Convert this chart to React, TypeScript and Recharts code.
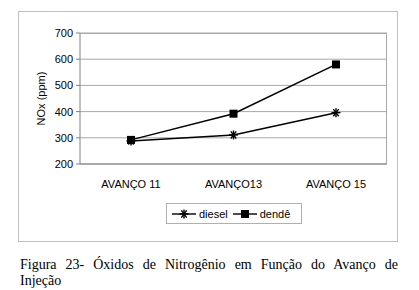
import React from 'react';
import { LineChart, Line, XAxis, YAxis, CartesianGrid, Legend } from 'recharts';

const categories = ['AVANÇO 11', 'AVANÇO13', 'AVANÇO 15'];
const diesel = [288, 311, 396];
const dende = [292, 392, 580];
const yTicks = [200, 300, 400, 500, 600, 700];
const bandEdges = [0, 1, 2, 3];

const data = categories.map((name, i) => ({ name, diesel: diesel[i], dende: dende[i] }));

const FONT = 'Liberation Sans, Arial, sans-serif';

const StarDot = (props: any) => {
  const { cx, cy } = props;
  if (cx == null || cy == null) return null;
  const r = 4.5;
  return (
    <g stroke="#000" strokeWidth={1.4}>
      <line x1={cx - r} y1={cy} x2={cx + r} y2={cy} />
      <line x1={cx - r * 0.6} y1={cy - r * 0.8} x2={cx + r * 0.6} y2={cy + r * 0.8} />
      <line x1={cx - r * 0.6} y1={cy + r * 0.8} x2={cx + r * 0.6} y2={cy - r * 0.8} />
      <line x1={cx} y1={cy - r} x2={cx} y2={cy + r} />
    </g>
  );
};

const SquareDot = (props: any) => {
  const { cx, cy } = props;
  if (cx == null || cy == null) return null;
  return <rect x={cx - 4} y={cy - 4} width={8} height={8} fill="#000" />;
};

const LegendBox = () => (
  <div style={{ paddingTop: 15 }}>
    <div
      style={{
        marginLeft: 147,
        width: 134,
        height: 19,
        border: '1px solid #b0b0b0',
        display: 'flex',
        alignItems: 'center',
        fontFamily: FONT,
        fontSize: 11,
        color: '#000',
        boxSizing: 'content-box',
      }}
    >
      <svg width={26} height={12} style={{ marginLeft: 4 }}>
        <line x1={1} y1={6} x2={25} y2={6} stroke="#000" strokeWidth={1.4} />
        <StarDot cx={13} cy={6} />
      </svg>
      <span style={{ marginLeft: 2 }}>diesel</span>
      <svg width={26} height={12} style={{ marginLeft: 4 }}>
        <line x1={1} y1={6} x2={25} y2={6} stroke="#000" strokeWidth={1.4} />
        <SquareDot cx={13} cy={6} />
      </svg>
      <span style={{ marginLeft: 2 }}>dendê</span>
    </div>
  </div>
);

const serif = 'Liberation Serif, Times New Roman, serif';

export default function App() {
  return (
    <div style={{ position: 'absolute', left: 0, top: 0, width: 419, height: 290, background: '#fff' }}>
      <div
        style={{
          position: 'absolute',
          left: 18,
          top: 11,
          width: 378,
          height: 229,
          border: '1px solid #c0c0c0',
        }}
      >
        <LineChart
          width={378}
          height={229}
          data={data}
          margin={{ top: 21, right: 10, left: 0, bottom: 0 }}
        >
          <CartesianGrid vertical={false} stroke="#a8a8a8" strokeWidth={1} />
          <XAxis
            xAxisId="edges"
            type="number"
            dataKey={() => 0}
            domain={[0, 3]}
            ticks={bandEdges}
            height={0}
            axisLine={false}
            tickSize={4}
            tickLine={{ stroke: '#808080' }}
            tick={<g />}
          />
          <XAxis
            dataKey="name"
            height={24}
            padding={{ left: 51, right: 51 }}
            tickLine={false}
            tickMargin={10}
            tick={{ fill: '#000', fontFamily: FONT, fontSize: 11 }}
            axisLine={{ stroke: '#808080' }}
          />
          <YAxis
            width={61}
            domain={[200, 700]}
            ticks={yTicks}
            interval={0}
            stroke="#808080"
            tickSize={4}
            tickMargin={3}
            tick={{ fill: '#000', fontFamily: FONT, fontSize: 11 }}
            label={{
              value: 'NOx (ppm)',
              angle: -90,
              position: 'insideLeft',
              offset: 22,
              style: { fill: '#000', fontFamily: FONT, fontSize: 11, textAnchor: 'middle' },
            }}
          />
          <Line
            dataKey="diesel"
            name="diesel"
            stroke="#000"
            strokeWidth={1.5}
            dot={<StarDot />}
            activeDot={false}
            isAnimationActive={false}
          />
          <Line
            dataKey="dende"
            name="dendê"
            stroke="#000"
            strokeWidth={1.5}
            dot={<SquareDot />}
            activeDot={false}
            isAnimationActive={false}
          />
          <Legend
            verticalAlign="bottom"
            height={53}
            wrapperStyle={{ left: 0, width: 378 }}
            content={() => <LegendBox />}
          />
        </LineChart>
        <div
          style={{
            position: 'absolute',
            left: 60,
            top: 21,
            width: 308,
            height: 131,
            borderTop: '1px solid #a8a8a8',
            borderRight: '1px solid #a8a8a8',
            pointerEvents: 'none',
            boxSizing: 'border-box',
          }}
        />
      </div>
      <div
        style={{
          position: 'absolute',
          left: 20,
          top: 257,
          width: 378,
          fontFamily: serif,
          fontSize: 14,
          lineHeight: '16px',
          color: '#000',
        }}
      >
        <div style={{ textAlign: 'justify', textAlignLast: 'justify' }}>
          Figura 23- Óxidos de Nitrogênio em Função do Avanço de
        </div>
        <div>Injeção</div>
      </div>
    </div>
  );
}
